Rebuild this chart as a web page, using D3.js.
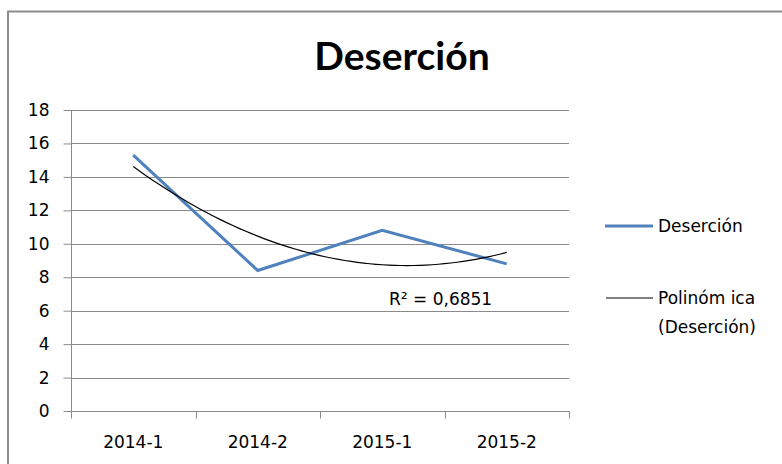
<!DOCTYPE html>
<html>
<head>
<meta charset="utf-8">
<script src="https://cdn.jsdelivr.net/npm/d3@7"></script>
<style>
  body { margin: 0; background: #fff; }
  svg text { font-family: "DejaVu Sans", sans-serif; fill: #000; }
</style>
</head>
<body>
<div id="chart"></div>
<script>
// data
var categories = ["2014-1", "2014-2", "2015-1", "2015-2"];
var desercion = [15.3, 8.4, 10.8, 8.8];
var yTicks = [0, 2, 4, 6, 8, 10, 12, 14, 16, 18];
var r2Label = "R² = 0,6851";

var width = 782, height = 464;
var margin = { top: 110, right: 213, bottom: 53, left: 71 };
var labelSize = "17px";

var svg = d3.select("#chart").append("svg")
  .attr("width", width)
  .attr("height", height);

// chart area border (only top and left visible)
svg.append("path")
  .attr("d", "M8," + height + " V11.5 H" + width)
  .attr("fill", "none")
  .attr("stroke", "#8c8c8c")
  .attr("stroke-width", 2);

var x = d3.scaleBand()
  .domain(categories)
  .range([margin.left, width - margin.right]);

var y = d3.scaleLinear()
  .domain([0, 18])
  .range([height - margin.bottom, margin.top]);

// gridlines
svg.append("g")
  .selectAll("line")
  .data(yTicks)
  .enter()
  .append("line")
  .attr("x1", margin.left)
  .attr("x2", width - margin.right)
  .attr("y1", (d) => Math.round(y(d)) + 0.5)
  .attr("y2", (d) => Math.round(y(d)) + 0.5)
  .attr("stroke", "#8a8a8a")
  .attr("stroke-width", 1);

// y axis
var yAxis = svg.append("g")
  .attr("transform", "translate(" + (margin.left + 0.5) + ",0)")
  .call(d3.axisLeft(y).tickValues(yTicks).tickSize(8).tickPadding(14));
yAxis.select(".domain").attr("stroke", "#8a8a8a").attr("d", "M0," + margin.top + "V" + (height - margin.bottom));
yAxis.selectAll(".tick line").attr("stroke", "#8a8a8a");
yAxis.selectAll(".tick text")
  .style("font-size", labelSize)
  .style("font-family", "DejaVu Sans, sans-serif")
  .attr("fill", "#000");

// x axis, ticks on category boundaries
var xAxis = svg.append("g")
  .attr("transform", "translate(0," + (Math.round(y(0)) + 0.5) + ")");
xAxis.append("line")
  .attr("x1", margin.left)
  .attr("x2", width - margin.right)
  .attr("stroke", "#8a8a8a");
var bounds = categories.map((c) => x(c)).concat([x.range()[1]]);
xAxis.selectAll(".xt")
  .data(bounds)
  .enter()
  .append("line")
  .attr("class", "xt")
  .attr("x1", (d) => Math.round(d) + 0.5)
  .attr("x2", (d) => Math.round(d) + 0.5)
  .attr("y1", 0)
  .attr("y2", 7)
  .attr("stroke", "#8a8a8a");
xAxis.selectAll(".xl")
  .data(categories)
  .enter()
  .append("text")
  .attr("class", "xl")
  .attr("x", (d) => x(d) + x.bandwidth() / 2)
  .attr("y", 36)
  .attr("text-anchor", "middle")
  .style("font-size", labelSize)
  .text((d) => d);

// polynomial (order 2) trendline, least squares on x = 1..n
function polyFit(vals) {
  var s = [0, 0, 0, 0, 0], t = [0, 0, 0];
  vals.forEach(function (v, i) {
    var xi = i + 1;
    for (var k = 0; k < 5; k++) s[k] += Math.pow(xi, k);
    for (var k2 = 0; k2 < 3; k2++) t[k2] += v * Math.pow(xi, k2);
  });
  // solve 3x3 normal equations
  var m = [
    [s[0], s[1], s[2], t[0]],
    [s[1], s[2], s[3], t[1]],
    [s[2], s[3], s[4], t[2]]
  ];
  for (var i = 0; i < 3; i++) {
    for (var j = i + 1; j < 3; j++) {
      var f = m[j][i] / m[i][i];
      for (var k3 = i; k3 < 4; k3++) m[j][k3] -= f * m[i][k3];
    }
  }
  var c = [0, 0, 0];
  for (var i2 = 2; i2 >= 0; i2--) {
    var sum = m[i2][3];
    for (var j2 = i2 + 1; j2 < 3; j2++) sum -= m[i2][j2] * c[j2];
    c[i2] = sum / m[i2][i2];
  }
  return c;
}
var coef = polyFit(desercion);
var xPos = d3.scaleLinear()
  .domain([1, categories.length])
  .range([x(categories[0]) + x.bandwidth() / 2, x(categories[categories.length - 1]) + x.bandwidth() / 2]);
var trendPts = d3.range(1, categories.length + 0.001, 0.05).map(function (t) {
  return [t, coef[0] + coef[1] * t + coef[2] * t * t];
});

// data line
svg.append("path")
  .datum(desercion)
  .attr("fill", "none")
  .attr("stroke", "#4f81bd")
  .attr("stroke-width", 3)
  .attr("d", d3.line()
    .x((d, i) => x(categories[i]) + x.bandwidth() / 2)
    .y((d) => y(d)));

svg.append("path")
  .datum(trendPts)
  .attr("fill", "none")
  .attr("stroke", "#000")
  .attr("stroke-width", 1.2)
  .attr("d", d3.line().x((d) => xPos(d[0])).y((d) => y(d[1])));

// R² label
svg.append("text")
  .attr("x", 389)
  .attr("y", 305)
  .style("font-size", labelSize)
  .text(r2Label);

// title
svg.append("text")
  .attr("x", 402)
  .attr("y", 70)
  .attr("text-anchor", "middle")
  .style("font-family", "Lato, sans-serif")
  .style("font-size", "39px")
  .style("font-weight", "bold")
  .text("Deserción");

// legend
var legend = svg.append("g");
legend.append("line")
  .attr("x1", 605).attr("x2", 653)
  .attr("y1", 226).attr("y2", 226)
  .attr("stroke", "#4f81bd").attr("stroke-width", 3);
legend.append("text")
  .attr("x", 658).attr("y", 232)
  .style("font-size", labelSize)
  .text("Deserción");
legend.append("line")
  .attr("x1", 606).attr("x2", 653)
  .attr("y1", 298).attr("y2", 298)
  .attr("stroke", "#000").attr("stroke-width", 1.2);
legend.append("text")
  .attr("x", 658).attr("y", 304)
  .style("font-size", labelSize)
  .text("Polinóm ica");
legend.append("text")
  .attr("x", 658).attr("y", 333)
  .style("font-size", labelSize)
  .text("(Deserción)");
</script>
</body>
</html>
